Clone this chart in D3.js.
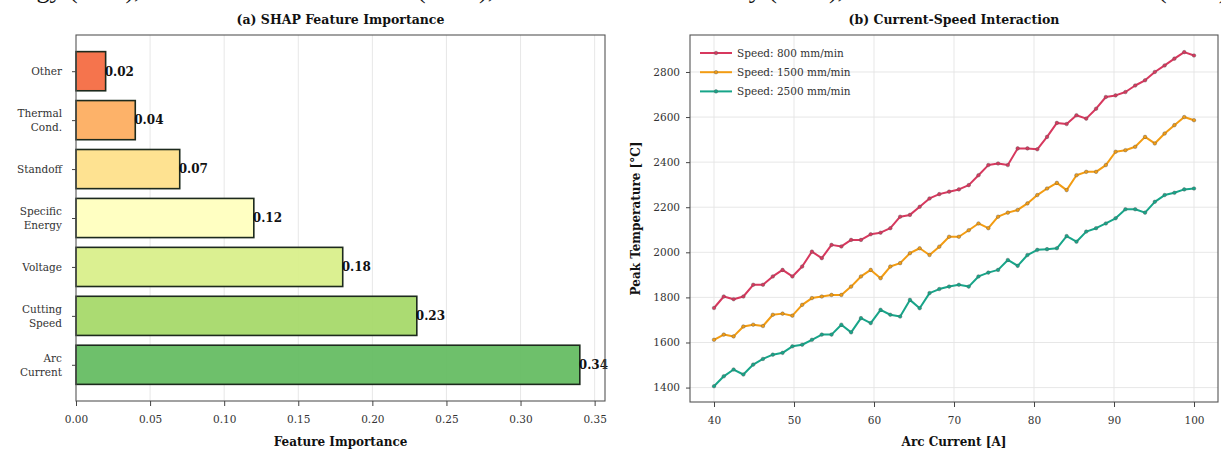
<!DOCTYPE html>
<html><head><meta charset="utf-8">
<script src="https://cdn.jsdelivr.net/npm/d3@7"></script>
<style>
body{margin:0;background:#fff}
svg{display:block}
text{font-family:"DejaVu Serif",serif}
</style></head>
<body><svg id="c" width="1221" height="451"></svg>
<script>
// ---------- data ----------
const features = ["Arc Current","Cutting Speed","Voltage","Specific Energy","Standoff","Thermal Cond.","Other"];
const featureLabels = [["Arc","Current"],["Cutting","Speed"],["Voltage"],["Specific","Energy"],["Standoff"],["Thermal","Cond."],["Other"]];
const importance = [0.34,0.23,0.18,0.12,0.07,0.04,0.02];
const barColors = ["#66bd63","#a6d96a","#d9ef8b","#ffffbf","#fee08b","#fdae61","#f46d43"];
const importanceTicks = [0,0.05,0.10,0.15,0.20,0.25,0.30,0.35];

const currents = [40.00,41.22,42.45,43.67,44.90,46.12,47.35,48.57,49.80,51.02,52.24,53.47,54.69,55.92,57.14,58.37,59.59,60.82,62.04,63.27,64.49,65.71,66.94,68.16,69.39,70.61,71.84,73.06,74.29,75.51,76.73,77.96,79.18,80.41,81.63,82.86,84.08,85.31,86.53,87.76,88.98,90.20,91.43,92.65,93.88,95.10,96.33,97.55,98.78,100.00];
const temp800 = [1753,1804,1792,1804,1856,1856,1893,1922,1893,1937,2003,1974,2033,2026,2055,2055,2080,2087,2107,2158,2166,2202,2239,2258,2269,2279,2298,2342,2387,2394,2387,2461,2461,2457,2512,2574,2569,2608,2593,2637,2689,2696,2711,2740,2763,2800,2829,2859,2888,2873];
const temp1500 = [1612,1635,1627,1671,1679,1673,1723,1728,1719,1767,1797,1804,1811,1811,1848,1893,1922,1885,1937,1952,1996,2018,1988,2025,2069,2069,2098,2128,2107,2158,2176,2188,2217,2254,2283,2308,2276,2342,2357,2357,2387,2446,2453,2468,2512,2483,2527,2564,2600,2586];
const temp2500 = [1406,1450,1480,1458,1502,1527,1546,1554,1583,1590,1612,1635,1635,1679,1645,1708,1686,1745,1723,1715,1789,1752,1819,1837,1848,1856,1848,1893,1910,1922,1966,1940,1988,2011,2014,2018,2072,2047,2092,2107,2128,2151,2191,2191,2176,2224,2254,2264,2279,2283];
const seriesNames = ["Speed: 800 mm/min","Speed: 1500 mm/min","Speed: 2500 mm/min"];
const seriesColors = ["#d7385e","#f39c12","#17a589"];
const currentTicks = [40,50,60,70,80,90,100];
const tempTicks = [1400,1600,1800,2000,2200,2400,2600,2800];

const captionPieces = [
  {t:"Energy (SEC),", x:-12},
  {t:"(ARC),", x:417},
  {t:"Conductivity (TCD),", x:626},
  {t:"(SOD)", x:1158}
];

// ---------- drawing ----------
const svg = d3.select("#c");
const TICK_FONT = 10.5;

// clipped caption line from the page above (only its descenders show)
svg.selectAll("text.cap").data(captionPieces).join("text")
  .attr("class","cap").attr("x",d=>d.x).attr("y",-2.5)
  .style("font-family","'Liberation Serif',serif").style("font-size","26px").attr("fill","#111")
  .text(d=>d.t);

function styleAxis(g){
  g.select(".domain").remove();
  g.selectAll(".tick line").attr("stroke","#444").attr("stroke-width",1);
  g.selectAll(".tick text").attr("fill","#333").style("font-size",TICK_FONT+"px");
}

// ===== Panel (a) =====
const A = {l:76, r:605, t:35, b:401};
const xA = d3.scaleLinear().domain([0, 0.357]).range([A.l, A.r]);
const yA = d3.scaleLinear().domain([-0.74, 6.74]).range([A.b, A.t]);

svg.append("g").selectAll("line").data(importanceTicks.slice(1)).join("line")
  .attr("x1",d=>xA(d)).attr("x2",d=>xA(d)).attr("y1",A.t).attr("y2",A.b)
  .attr("stroke","#e4e4e4").attr("stroke-width",0.9);

const idx = d3.range(features.length);
svg.append("g").selectAll("rect").data(idx).join("rect")
  .attr("x",xA(0)).attr("y",i=>yA(i+0.4))
  .attr("width",i=>xA(importance[i])-xA(0))
  .attr("height",i=>yA(i-0.4)-yA(i+0.4))
  .attr("fill",i=>barColors[i]).attr("fill-opacity",0.95)
  .attr("stroke","#1d2a1d").attr("stroke-width",1.6);

svg.append("g").selectAll("text").data(idx).join("text")
  .attr("x",i=>xA(importance[i])-1).attr("y",i=>yA(i))
  .attr("dy","0.36em").style("font-size","12px").style("font-weight","bold")
  .attr("fill","#111").text(i=>importance[i].toFixed(2));

svg.append("rect").attr("x",A.l).attr("y",A.t).attr("width",A.r-A.l).attr("height",A.b-A.t)
  .attr("fill","none").attr("stroke","#555").attr("stroke-width",1.1);

const axA = svg.append("g").attr("transform",`translate(0,${A.b})`)
  .call(d3.axisBottom(xA).tickValues(importanceTicks).tickFormat(d3.format(".2f")).tickSize(5).tickPadding(10));
styleAxis(axA);
const ayA = svg.append("g").attr("transform",`translate(${A.l},0)`)
  .call(d3.axisLeft(yA).tickValues(idx).tickFormat("").tickSize(4).tickPadding(10));
styleAxis(ayA);
ayA.selectAll(".tick").each(function(i){
  const t = d3.select(this).select("text");
  const lines = featureLabels[i];
  const lh = 14;
  lines.forEach((ln,k)=>{
    t.append("tspan").attr("x",-14)
      .attr("y", (k-(lines.length-1)/2)*lh)
      .attr("dy","0.36em").text(ln);
  });
});

svg.append("text").attr("x",(A.l+A.r)/2).attr("y",24).attr("text-anchor","middle")
  .style("font-size","12.5px").style("font-weight","bold").attr("fill","#111")
  .text("(a) SHAP Feature Importance");
svg.append("text").attr("x",(A.l+A.r)/2).attr("y",446).attr("text-anchor","middle")
  .style("font-size","12px").style("font-weight","bold").attr("fill","#111")
  .text("Feature Importance");

// ===== Panel (b) =====
const B = {l:690, r:1218, t:35, b:402};
const xB = d3.scaleLinear().domain([37,103]).range([B.l,B.r]);
const yB = d3.scaleLinear().domain([1336,2964]).range([B.b,B.t]);

const gridB = svg.append("g");
gridB.selectAll("line.v").data(currentTicks).join("line").attr("class","v")
  .attr("x1",d=>xB(d)).attr("x2",d=>xB(d)).attr("y1",B.t).attr("y2",B.b)
  .attr("stroke","#e4e4e4").attr("stroke-width",0.9);
gridB.selectAll("line.h").data(tempTicks).join("line").attr("class","h")
  .attr("x1",B.l).attr("x2",B.r).attr("y1",d=>yB(d)).attr("y2",d=>yB(d))
  .attr("stroke","#e4e4e4").attr("stroke-width",0.9);

const series = [temp800, temp1500, temp2500];
const line = d3.line().x((d,i)=>xB(currents[i])).y(d=>yB(d));
series.forEach((s,k)=>{
  const g = svg.append("g");
  g.append("path").datum(s).attr("d",line).attr("fill","none")
    .attr("stroke",seriesColors[k]).attr("stroke-width",2).attr("stroke-linejoin","round");
  g.selectAll("circle").data(s).join("circle")
    .attr("cx",(d,i)=>xB(currents[i])).attr("cy",d=>yB(d)).attr("r",1.8)
    .attr("fill",seriesColors[k]).attr("stroke","#555").attr("stroke-width",0.4);
});

svg.append("rect").attr("x",B.l).attr("y",B.t).attr("width",B.r-B.l).attr("height",B.b-B.t)
  .attr("fill","none").attr("stroke","#555").attr("stroke-width",1.1);

const axB = svg.append("g").attr("transform",`translate(0,${B.b})`)
  .call(d3.axisBottom(xB).tickValues(currentTicks).tickFormat(d3.format("d")).tickSize(5).tickPadding(10));
styleAxis(axB);
const ayB = svg.append("g").attr("transform",`translate(${B.l},0)`)
  .call(d3.axisLeft(yB).tickValues(tempTicks).tickFormat(d3.format("d")).tickSize(4).tickPadding(6));
styleAxis(ayB);

const leg = svg.append("g");
seriesNames.forEach((n,k)=>{
  const y = 53 + k*19.2;
  leg.append("line").attr("x1",700).attr("x2",732).attr("y1",y).attr("y2",y)
    .attr("stroke",seriesColors[k]).attr("stroke-width",2);
  leg.append("circle").attr("cx",716).attr("cy",y).attr("r",1.8)
    .attr("fill",seriesColors[k]).attr("stroke","#555").attr("stroke-width",0.4);
  leg.append("text").attr("x",737).attr("y",y).attr("dy","0.35em")
    .style("font-size",TICK_FONT+"px").attr("fill","#333").text(n);
});

svg.append("text").attr("x",(B.l+B.r)/2).attr("y",24).attr("text-anchor","middle")
  .style("font-size","12.5px").style("font-weight","bold").attr("fill","#111")
  .text("(b) Current-Speed Interaction");
svg.append("text").attr("x",(B.l+B.r)/2).attr("y",446).attr("text-anchor","middle")
  .style("font-size","12px").style("font-weight","bold").attr("fill","#111")
  .text("Arc Current [A]");
svg.append("text").attr("transform",`translate(640,${(B.t+B.b)/2}) rotate(-90)`)
  .attr("text-anchor","middle")
  .style("font-size","12px").style("font-weight","bold").attr("fill","#111")
  .text("Peak Temperature [°C]");
</script>
</body></html>
